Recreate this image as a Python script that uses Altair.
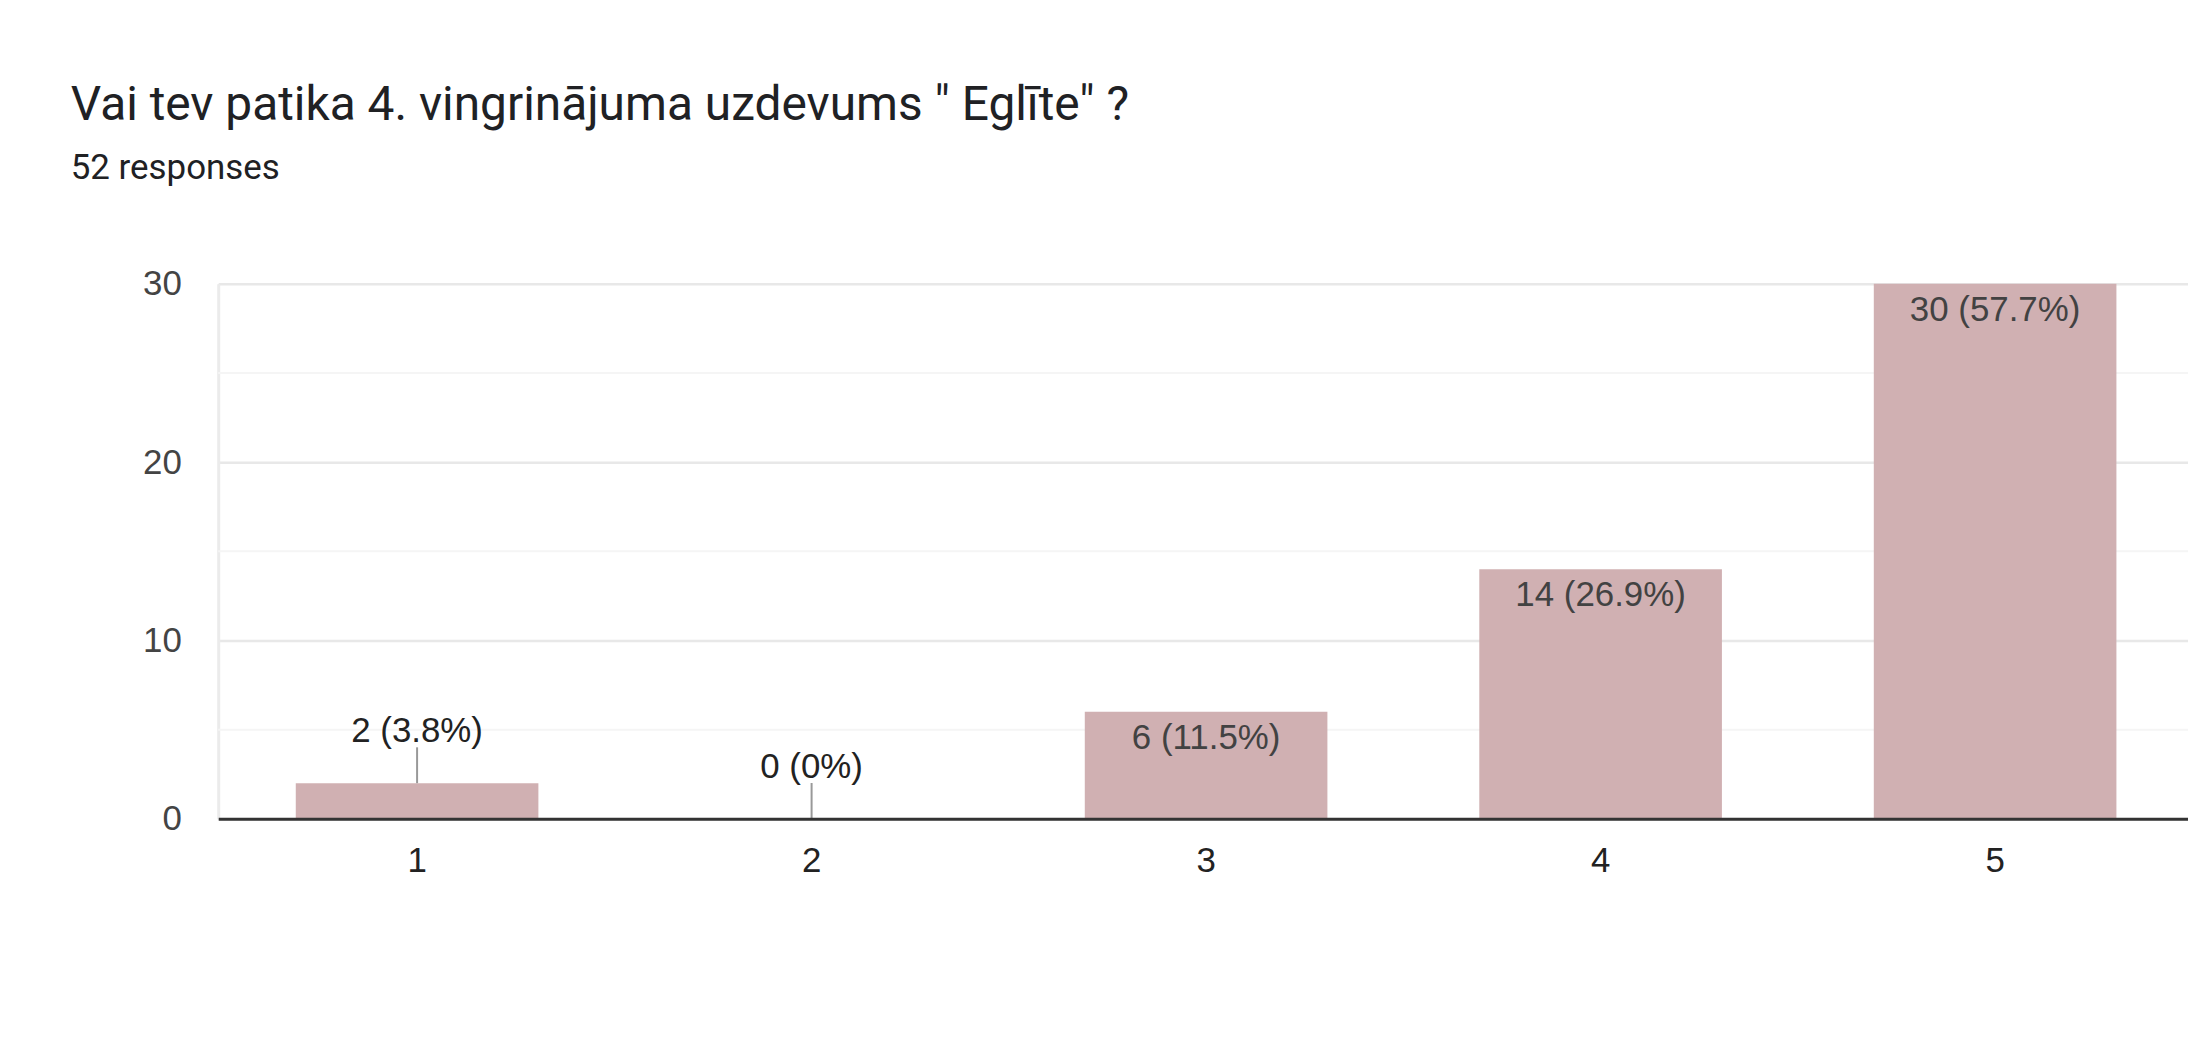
import altair as alt
import pandas as pd

# ---- data ----
categories = ["1", "2", "3", "4", "5"]
counts = [2, 0, 6, 14, 30]
total_responses = 52
y_major_ticks = [0, 10, 20, 30]
y_minor_ticks = [5, 15, 25]
title_text = 'Vai tev patika 4. vingrinājuma uzdevums " Eglīte" ?'
subtitle_text = f"{total_responses} responses"
inside_threshold = 5


def pct_label(c, total):
    p = round(c / total * 100, 1)
    s = f"{p:.1f}".rstrip("0").rstrip(".")
    return f"{c} ({s}%)"


df = pd.DataFrame({
    "cat": categories,
    "count": counts,
    "label": [pct_label(c, total_responses) for c in counts],
    "inside": [c >= inside_threshold for c in counts],
})
minor_df = pd.DataFrame({"count": y_minor_ticks})

LABEL_FONT = "Liberation Sans"

x_enc = alt.X(
    "cat:N",
    sort=categories,
    scale=alt.Scale(paddingInner=0.385, paddingOuter=0.189, align=0.52),
    axis=alt.Axis(
        title=None, labelAngle=0, ticks=False, tickSize=0,
        labelFont=LABEL_FONT, labelFontSize=35, labelColor="#222222",
        labelBaseline="alphabetic", labelPadding=53,
        domain=True, domainColor="#333333", domainWidth=3,
        grid=False, zindex=1,
    ),
)
y_scale = alt.Scale(domain=[0, 30], nice=False)
y_axis = alt.Axis(
    title=None, values=y_major_ticks, ticks=False, tickSize=0,
    labelFont=LABEL_FONT, labelFontSize=35, labelColor="#444444",
    labelPadding=37,
    domain=True, domainColor="#ebebeb", domainWidth=3,
    grid=True, gridColor="#e8e8e8", gridWidth=2.5,
    zindex=0,
)
y_enc = alt.Y("count:Q", scale=y_scale, axis=y_axis)

minor = alt.Chart(minor_df).mark_rule(color="#f5f5f5", strokeWidth=2).encode(
    y=y_enc
)

bars = alt.Chart(df).mark_bar(color="#d0b0b2").encode(x=x_enc, y=y_enc)

leaders = alt.Chart(df).transform_filter("!datum.inside").mark_rule(
    color="#999999", strokeWidth=2, y2Offset=-36
).encode(x=x_enc, y=y_enc, y2=alt.Y2("count:Q"))

text_in = alt.Chart(df).transform_filter("datum.inside").mark_text(
    font=LABEL_FONT, fontSize=35, color="#424242", baseline="alphabetic", dy=37
).encode(x=x_enc, y=y_enc, text="label:N")

text_out = alt.Chart(df).transform_filter("!datum.inside").mark_text(
    font=LABEL_FONT, fontSize=35, color="#222222", baseline="alphabetic", dy=-41
).encode(x=x_enc, y=y_enc, text="label:N")

chart = alt.layer(minor, bars, leaders, text_in, text_out).properties(
    width=1977,
    height=537,
    title=alt.TitleParams(
        text=title_text,
        subtitle=subtitle_text,
        anchor="start",
        frame="group",
        font="Roboto",
        fontSize=48,
        fontWeight="normal",
        color="#202124",
        subtitleFont="Roboto",
        subtitleFontSize=35,
        subtitleColor="#202124",
        subtitlePadding=21,
        offset=81,
        dx=-148,
    ),
    autosize=alt.AutoSizeParams(type="none"),
    padding={"left": 211, "top": 275, "right": 0, "bottom": 190},
).configure_view(stroke=None).configure(background="white")

chart.save("out.html", embed_options={"renderer": "svg", "actions": False})
